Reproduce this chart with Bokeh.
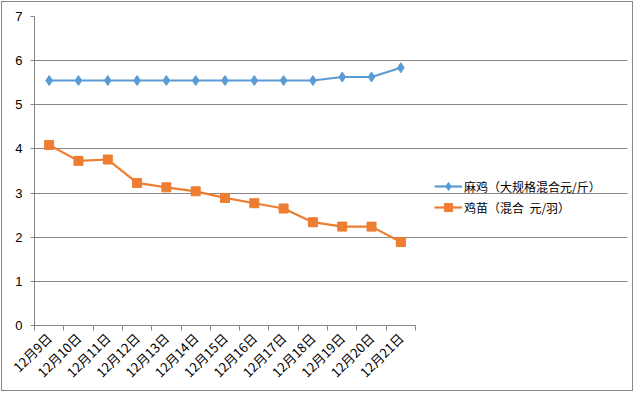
import math
from bokeh.plotting import figure
from bokeh.models import FixedTicker, Range1d, Legend, LegendItem, ColumnDataSource
from bokeh.embed import file_html
from bokeh.resources import INLINE

dates = ["12月9日", "12月10日", "12月11日", "12月12日", "12月13日", "12月14日", "12月15日",
         "12月16日", "12月17日", "12月18日", "12月19日", "12月20日", "12月21日"]
maji = [5.55, 5.55, 5.55, 5.55, 5.55, 5.55, 5.55, 5.55, 5.55, 5.55, 5.63, 5.63, 5.84]
jimiao = [4.09, 3.73, 3.76, 3.23, 3.13, 3.04, 2.89, 2.77, 2.65, 2.34, 2.24, 2.24, 1.89]
series_names = ["麻鸡（大规格混合元/斤）", "鸡苗（混合  元/羽）"]
y_ticks = [0, 1, 2, 3, 4, 5, 6, 7]

n = len(dates)
xpos = [i + 0.5 for i in range(n)]
src = ColumnDataSource(dict(x=xpos, maji=maji, jimiao=jimiao))

# plot frame extended to the right so the legend can sit inside it;
# axis line and gridlines are bounded to the category area
frame_w = 593
cat_w = 381 / n
p = figure(frame_width=frame_w, frame_height=309, output_backend="svg", toolbar_location=None,
           x_range=Range1d(0, frame_w / cat_w), y_range=Range1d(0, 7),
           min_border_left=32, min_border_right=5, min_border_top=14, min_border_bottom=63,
           styles={"border": "1px solid #868686", "margin-left": "1px", "margin-top": "1px"})
p.outline_line_color = None
p.background_fill_color = "white"
p.border_fill_color = "white"

grid = "#868686"
p.xgrid.grid_line_color = None
p.ygrid.grid_line_color = grid
p.ygrid.grid_line_width = 1
p.ygrid.bounds = (0, n)

p.yaxis.ticker = FixedTicker(ticks=y_ticks)
p.yaxis.axis_line_color = grid
p.yaxis.major_tick_line_color = grid
p.yaxis.major_tick_out = 4
p.yaxis.major_tick_in = 0
p.yaxis.minor_tick_line_color = None
p.yaxis.major_label_standoff = 8
p.yaxis.major_label_text_font = "Liberation Sans"
p.yaxis.major_label_text_font_size = "13px"
p.yaxis.major_label_text_color = "black"

p.xaxis.bounds = (0, n)
p.xaxis.ticker = FixedTicker(ticks=xpos, minor_ticks=list(range(n + 1)))
p.xaxis.major_label_overrides = {x: d for x, d in zip(xpos, dates)}
p.xaxis.axis_line_color = grid
p.xaxis.major_tick_out = 0
p.xaxis.major_tick_in = 0
p.xaxis.minor_tick_line_color = grid
p.xaxis.minor_tick_out = 5
p.xaxis.minor_tick_in = 0
p.xaxis.major_label_orientation = math.pi / 4
p.xaxis.major_label_standoff = 5
p.xaxis.major_label_text_font = "Noto Sans CJK SC"
p.xaxis.major_label_text_font_size = "13px"
p.xaxis.major_label_text_color = "black"

blue = "#5B9BD5"
orange = "#ED7D31"
l1 = p.line("x", "maji", source=src, color=blue, line_width=2.2)
m1 = p.scatter("x", "maji", source=src, marker="diamond", size=10, color=blue)
l2 = p.line("x", "jimiao", source=src, color=orange, line_width=2.2)
m2 = p.scatter("x", "jimiao", source=src, marker="square", size=9, color=orange)

legend = Legend(items=[LegendItem(label=series_names[0], renderers=[l1, m1]),
                       LegendItem(label=series_names[1], renderers=[l2, m2])],
                location=(400, 108), padding=0, margin=0, spacing=1,
                border_line_color=None, background_fill_alpha=0,
                glyph_width=28, glyph_height=20, label_height=20, label_standoff=2,
                label_text_font="Noto Sans CJK SC", label_text_font_size="12px",
                label_text_color="black")
p.add_layout(legend, "center")

open("out.html", "w").write(file_html(p, INLINE))
